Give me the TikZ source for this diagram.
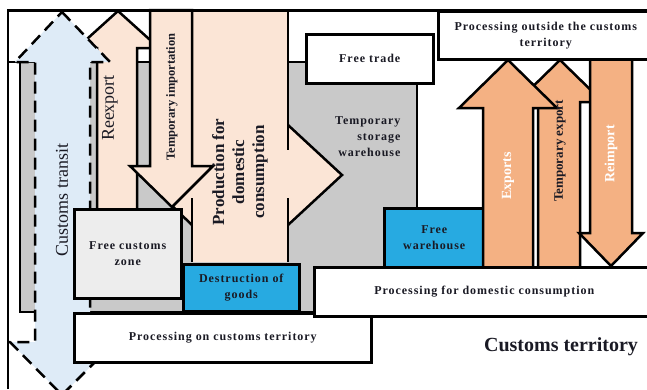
\documentclass[tikz,border=0pt]{standalone}
\usepackage{fontspec}
\setmainfont{Liberation Serif}
\newfontfamily\spacedserif[LetterSpace=8]{Liberation Serif}
\newcommand\boxfont{\spacedserif\bfseries\fontsize{12}{16}\selectfont}
\definecolor{pinkl}{HTML}{FBE5D6}
\definecolor{bluel}{HTML}{DEEBF7}
\definecolor{grayr}{HTML}{C9C9C9}
\definecolor{bluebox}{HTML}{27AAE1}
\definecolor{orng}{HTML}{F4B183}
\definecolor{fczfill}{HTML}{EDEDED}
\definecolor{txt}{HTML}{1A1A24}
\begin{document}
\begin{tikzpicture}[x=1pt,y=-1pt,line width=2.5pt,line join=miter,miter limit=10,
  boxw/.style={draw=black,fill=white,rectangle,inner sep=0pt,anchor=north west,align=center,font=\boxfont,text=txt},
  vlab/.style={rotate=90,inner sep=0pt,text=txt},
  dashline/.style={dash pattern=on 12pt off 7pt}]
\useasboundingbox (0,0) rectangle (647,389);
\clip (0,0) rectangle (647,389);
% gray region
\draw[fill=grayr] (20,62) rectangle (417,312);
\draw (8,62) -- (20,62);
% Free trade
\node[boxw,minimum width=127pt,minimum height=49pt] (ft) at (305,33) {Free trade};
% production for domestic consumption (cross shape)
\fill[pinkl] (192,10) rectangle (288,262);
\fill[pinkl] (192,125) -- (140,175) -- (192,225) -- cycle;
\fill[pinkl] (288,125) -- (342,175) -- (288,225) -- cycle;
\draw (192,10) -- (192,150);
\draw (192,198) -- (192,262);
\draw (288,10) -- (288,150);
\draw (288,198) -- (288,262);
\draw (288,125) -- (342,175) -- (288,225);
\draw (192,125) -- (140,175) -- (192,225);
% Reexport
\draw[fill=pinkl] (118,11) -- (159,48) -- (137,48) -- (137,215) -- (97,215) -- (97,48) -- (77,48) -- cycle;
% Temporary importation
\draw[fill=pinkl] (150,10) -- (192,10) -- (192,166) -- (213,166) -- (172,207) -- (130,166) -- (150,166) -- cycle;
% Customs transit
\draw[fill=bluel,dashline] (62,12) -- (110,62) -- (90,62) -- (90,342) -- (115,342) -- (62,395) -- (10,342) -- (35,342) -- (35,62) -- (15,62) -- cycle;
% boxes
\node[boxw,fill=fczfill,minimum width=107pt,minimum height=89pt] (fcz) at (73,208) {Free customs\\zone};
\node[boxw,fill=bluebox,minimum width=116pt,minimum height=47pt] (dg) at (182,263) {Destruction of\\goods};
\node[boxw,minimum width=297pt,minimum height=49pt] (pct) at (73,312) {Processing on customs territory};
\node[boxw,fill=bluebox,minimum width=100pt,minimum height=59pt] (fw) at (383,207) {Free\\warehouse};
% orange arrows
\draw[fill=orng] (560,60) -- (603,102) -- (580,102) -- (580,268) -- (538,268) -- (538,102) -- (517,102) -- cycle;
\draw[fill=orng] (508,60) -- (557,108) -- (533,108) -- (533,268) -- (483,268) -- (483,108) -- (459,108) -- cycle;
\draw[fill=orng] (590,56) -- (632,56) -- (632,233) -- (643,233) -- (611,266) -- (579,233) -- (590,233) -- cycle;
\node[boxw,minimum width=340pt,minimum height=49pt] (pdc) at (313,266) {Processing for domestic consumption};
\node[boxw,minimum width=215pt,minimum height=48pt] (pot) at (437,10) {Processing outside the customs\\territory};
% frame
\draw (8,389) -- (8,10.5) -- (650,10.5);
% labels
\node[font=\boxfont,align=right,anchor=east,text=txt] (tsw) at (405,137) {Temporary\\storage\\warehouse};
\node[font=\bfseries\fontsize{20}{24}\selectfont,anchor=base,text=txt] (ct) at (561,351) {Customs territory};
\node[vlab,font=\fontsize{18}{20}\selectfont] (ctr) at (62,200) {Customs transit};
\node[vlab,font=\fontsize{18}{20}\selectfont] (rex) at (110,108) {Reexport};
\node[vlab,font=\bfseries\fontsize{12.5}{14}\selectfont] (tim) at (172,97) {Temporary importation};
\node[vlab,font=\bfseries\fontsize{17}{20}\selectfont,align=center] (pdcl) at (240,172) {Production for\\domestic\\consumption};
\node[vlab,font=\bfseries\fontsize{14}{16}\selectfont,text=white] (exl) at (508,176) {Exports};
\node[vlab,font=\bfseries\fontsize{13}{15}\selectfont] (tel) at (560,151) {Temporary export};
\node[vlab,font=\bfseries\fontsize{14}{16}\selectfont,text=white] (ril) at (611,154) {Reimport};
\end{tikzpicture}
\end{document}
